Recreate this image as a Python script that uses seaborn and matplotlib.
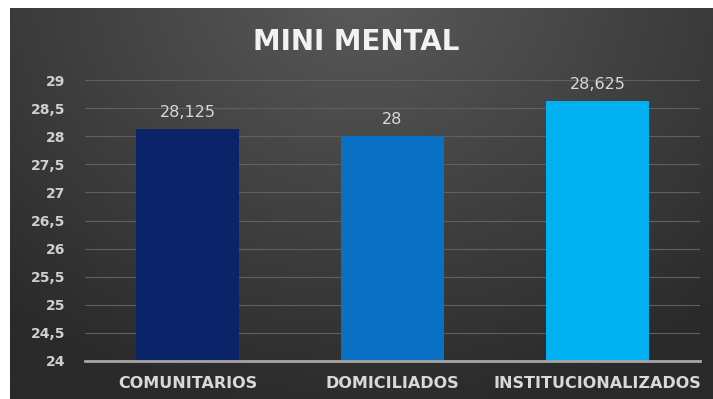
import numpy as np
import pandas as pd
import matplotlib
matplotlib.use("Agg")
import matplotlib.pyplot as plt
import seaborn as sns

categories = ["COMUNITARIOS", "DOMICILIADOS", "INSTITUCIONALIZADOS"]
values = [28.125, 28, 28.625]
bar_colors = ["#0b2369", "#0a70c4", "#00b0f0"]
yticks = [24, 24.5, 25, 25.5, 26, 26.5, 27, 27.5, 28, 28.5, 29]
title = "MINI MENTAL"

def fmt(v):
    return f"{v:g}".replace(".", ",")

sns.set_theme(style="dark")
plt.rcParams["font.family"] = ["DejaVu Sans"]

W, H = 713, 399
fig = plt.figure(figsize=(W / 100, H / 100), dpi=100)
fig.patch.set_facecolor("white")

# dark gradient panel
bg = fig.add_axes([10 / W, 0, 1 - 10 / W, 1 - 8 / H])
ny, nx = 200, 360
yy, xx = np.mgrid[0:ny, 0:nx]
cx, cy = nx / 2, -ny * 0.05
d = np.sqrt(((xx - cx) / (nx * 0.75)) ** 2 + ((yy - cy) / (ny * 1.1)) ** 2)
d = np.clip(d, 0, 1)
light = np.array([0x5a, 0x5a, 0x5a]) / 255
dark = np.array([0x2a, 0x2a, 0x2a]) / 255
img = light[None, None, :] * (1 - d[..., None]) + dark[None, None, :] * d[..., None]
bg.imshow(img, aspect="auto", extent=[0, 1, 0, 1], origin="upper")
bg.set_axis_off()

left, right = 85 / W, 700 / W
bottom, top = 1 - 361 / H, 1 - 80 / H
ax = fig.add_axes([left, bottom, right - left, top - bottom])
ax.set_facecolor("none")

df = pd.DataFrame({"cat": categories, "val": values})
sns.barplot(data=df, x="cat", y="val", hue="cat", palette=bar_colors,
            width=0.5, legend=False, ax=ax, saturation=1, linewidth=0)

ax.set_ylim(24, 29)
ax.set_xlim(-0.5, 2.5)
ax.set_yticks(yticks)
ax.set_yticklabels([fmt(t) for t in yticks])
ax.set_xlabel("")
ax.set_ylabel("")
ax.grid(axis="y", color="#606060", linewidth=0.8)
ax.grid(axis="x", visible=False)
ax.set_axisbelow(True)
for s in ["top", "right", "left"]:
    ax.spines[s].set_visible(False)
ax.spines["bottom"].set_color("#a6a6a6")
ax.spines["bottom"].set_linewidth(2)
ax.tick_params(axis="y", colors="#cfcfcf", length=0, pad=14, labelsize=10)
ax.tick_params(axis="x", colors="#d9d9d9", length=0, pad=11, labelsize=11.5)
for lab in ax.get_yticklabels() + ax.get_xticklabels():
    lab.set_fontweight("bold")

for i, v in enumerate(values):
    ax.annotate(fmt(v), (i, v), xytext=(0, 12), textcoords="offset points",
                ha="center", va="center", color="#d9d9d9", fontsize=11.5)

fig.text(356 / W, 1 - 42 / H, title, ha="center", va="center",
         color="#f2f2f2", fontsize=20, fontweight="bold")

fig.savefig("out.png", dpi=100, facecolor=fig.get_facecolor())
